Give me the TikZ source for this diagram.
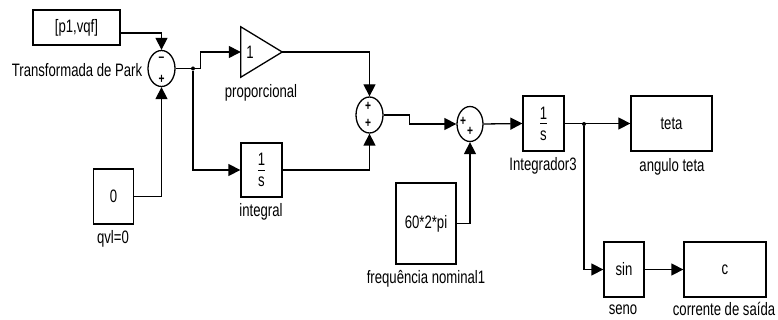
\documentclass[tikz,border=0pt]{standalone}
\usepackage{fontspec}
\setmainfont{Liberation Sans}[FakeStretch=0.73]
\usetikzlibrary{arrows.meta,shapes.geometric}
\begin{document}
\begin{tikzpicture}[x=1pt,y=-1pt,
  blk/.style={draw,line width=1.3pt,inner sep=0pt},
  ghost/.style={inner sep=0pt},
  sumb/.style={draw,ellipse,line width=1.3pt,minimum width=27pt,minimum height=36pt,inner sep=0pt},
  wire/.style={line width=1.3pt,-{Triangle[length=12pt,width=12pt]}},
  txt/.style={font=\fontsize{18}{20}\selectfont,inner sep=0pt},
  sgn/.style={font=\fontsize{14}{14}\selectfont,inner sep=0pt},
  fracrule/.style={line width=0.9pt},
  dotc/.style={circle,fill,inner sep=0pt,minimum size=4pt}]
\useasboundingbox (0,0) rectangle (778,320);

% blocks
\node[blk,minimum width=87pt,minimum height=35pt] (park) at (76.5,27.5) {};
\node[txt] (parkt) at (park.center) {[p1,vqf]};
\node[txt] (parkl) at (77,70) {Transformada de Park};

\node[blk,minimum width=40pt,minimum height=55pt] (qvl) at (113.5,196.5) {};
\node[txt] (qvlt) at (qvl.center) {0};
\node[txt] (qvll) at (113,239) {qvl=0};

\node[sumb] (sum1) at (161.5,68.5) {};
\node[sgn] (s1a) at (161.5,59) {\textbf{--}};
\node[sgn] (s1b) at (161.5,79) {\textbf{+}};

\node[ghost,minimum width=41pt,minimum height=50pt] (gain) at (261.5,52) {};
\draw[line width=1.3pt] (gain.north west) -- (gain.east) -- (gain.south west) -- cycle;
\node[txt] (gaint) at (250,52) {1};
\node[txt] (gainl) at (261,93) {proporcional};

\node[blk,minimum width=41pt,minimum height=54pt] (integral) at (261.5,170) {};
\node[txt] (intn) at ([yshift=11pt]integral.center) {1};
\draw[fracrule] ([xshift=-3.5pt]integral.center) -- ([xshift=3.5pt]integral.center);
\node[txt] (ints) at ([yshift=-12pt]integral.center) {s};
\node[txt] (intl) at (261,212) {integral};

\node[sumb] (sum2) at (369.5,115) {};
\node[sgn] (s2a) at (368,106) {\textbf{+}};
\node[sgn] (s2b) at (368,123) {\textbf{+}};

\node[blk,minimum width=60pt,minimum height=81pt] (freq) at (426,223.5) {};
\node[txt] (freqt) at (freq.center) {60*2*pi};
\node[txt] (freql) at (426,279) {frequência nominal1};

\node[sumb,minimum width=26pt,minimum height=35pt] (sum3) at (470,124) {};
\node[sgn] (s3a) at (463,121) {\textbf{+}};
\node[sgn] (s3b) at (470,131) {\textbf{+}};

\node[blk,minimum width=41pt,minimum height=55pt] (int3) at (543.5,123.5) {};
\node[txt] (i3n) at ([yshift=10pt]int3.center) {1};
\draw[fracrule] ([xshift=-3.5pt]int3.center) -- ([xshift=3.5pt]int3.center);
\node[txt] (i3s) at ([yshift=-12pt]int3.center) {s};
\node[txt] (i3l) at (543,166) {Integrador3};

\node[blk,minimum width=81pt,minimum height=55pt] (teta) at (671.5,123.5) {};
\node[txt] (tetat) at (teta.center) {teta};
\node[txt] (tetal) at (672,167) {angulo teta};

\node[blk,minimum width=40pt,minimum height=55pt] (sin) at (624,269.5) {};
\node[txt] (sint) at (sin.center) {sin};
\node[txt] (sinl) at (623,310) {seno};

\node[blk,minimum width=82pt,minimum height=55pt] (cc) at (725,269.5) {};
\node[txt] (cct) at (cc.center) {c};
\node[txt] (ccl) at (724,309) {corrente de saída};

% branch points
\node[dotc] (d1) at (193,68.5) {};
\node[dotc] (d2) at (584,124) {};

% connectors
\draw[wire] ([yshift=-5.5pt]park.east) -| (sum1.north);
\draw[wire] (qvl.east) -| (sum1.south);
\draw[wire] (sum1.east) -- ++(25,0) |- (gain.west);
\draw[wire] (d1) |- (integral.west);
\draw[wire] (gain.east) -| (sum2.north);
\draw[wire] (integral.east) -| (sum2.south);
\draw[wire] (sum2.east) -- ++(26,0) |- (sum3.west);
\draw[wire] (freq.east) -| (sum3.south);
\draw[wire] (sum3.east) -- (int3.west);
\draw[wire] (int3.east) -- (teta.west);
\draw[wire] (d2) |- (sin.west);
\draw[wire] (sin.east) -- (cc.west);
\end{tikzpicture}
\end{document}
